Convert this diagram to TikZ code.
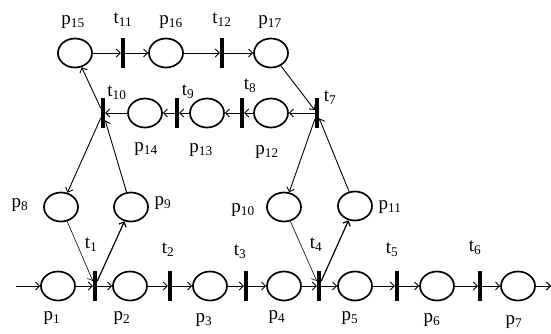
\documentclass[tikz,border=0pt]{standalone}
\usepackage{fontspec}
\setmainfont{Liberation Serif}
\usetikzlibrary{arrows.meta,shapes.geometric}

\begin{document}
\begin{tikzpicture}[x=1pt,y=-1pt,
  place/.style={ellipse,draw,line width=1.7pt,minimum width=34pt,minimum height=29pt,inner sep=0pt},
  trans/.style={rectangle,fill=black,minimum width=4pt,minimum height=30pt,inner sep=0pt},
  lbl/.style={font=\fontsize{19}{21}\selectfont,inner sep=0pt},
  arc/.style={-{Straight Barb[length=4pt,width=8pt]},line width=0.9pt}]

 \useasboundingbox (0,0) rectangle (551,333);

 % top row
 \node[place] (p15) at (75,53) {};
 \node[trans] (t11) at (123,53) {};
 \node[place] (p16) at (166,53) {};
 \node[trans] (t12) at (222,53) {};
 \node[place] (p17) at (271,53) {};

 % middle row (right to left)
 \node[trans] (t7) at (317,113) {};
 \node[place] (p12) at (271,113) {};
 \node[trans] (t8) at (242,113) {};
 \node[place] (p13) at (207,113) {};
 \node[trans] (t9) at (177,113) {};
 \node[place] (p14) at (145,113) {};
 \node[trans] (t10) at (103,113) {};

 % side places
 \node[place] (p8) at (61,207) {};
 \node[place] (p9) at (131,207) {};
 \node[place] (p10) at (284,207) {};
 \node[place] (p11) at (355,206) {};

 % bottom row
 \coordinate (in) at (16,286);
 \node[place] (p1) at (58,286) {};
 \node[trans] (t1) at (95,286) {};
 \node[place] (p2) at (130,286) {};
 \node[trans] (t2) at (170,286) {};
 \node[place] (p3) at (210,286) {};
 \node[trans] (t3) at (246,286) {};
 \node[place] (p4) at (284,286) {};
 \node[trans] (t4) at (319,286) {};
 \node[place] (p5) at (355,286) {};
 \node[trans] (t5) at (397,286) {};
 \node[place] (p6) at (437,286) {};
 \node[trans] (t6) at (480,286) {};
 \node[place] (p7) at (518,286) {};
 \coordinate (out) at (551,286);

 % arcs
 \draw[arc] (p15) -- (t11);
 \draw[arc] (t11) -- (p16);
 \draw[arc] (p16) -- (t12);
 \draw[arc] (t12) -- (p17);
 \draw[arc] (p17) -- (t7);
 \draw[arc] (t7) -- (p12);
 \draw[arc] (p12) -- (t8);
 \draw[arc] (t8) -- (p13);
 \draw[arc] (p13) -- (t9);
 \draw[arc] (t9) -- (p14);
 \draw[arc] (p14) -- (t10);
 \draw[arc] (t10) -- (p15);
 \draw[arc] (t10) -- (p8);
 \draw[arc] (p9) -- (t10);
 \draw[arc] (t7) -- (p10);
 \draw[arc] (p11) -- (t7);
 \draw[arc,line width=0.6pt] (p8) -- (t1);
 \draw[arc,line width=1.2pt] (t1) -- (p9);
 \draw[arc,line width=0.6pt] (p10) -- (t4);
 \draw[arc,line width=1.2pt] (t4) -- (p11);
 \draw[arc] (in) -- (p1);
 \draw[arc] (p1) -- (t1);
 \draw[arc] (t1) -- (p2);
 \draw[arc] (p2) -- (t2);
 \draw[arc] (t2) -- (p3);
 \draw[arc] (p3) -- (t3);
 \draw[arc] (t3) -- (p4);
 \draw[arc] (p4) -- (t4);
 \draw[arc] (t4) -- (p5);
 \draw[arc] (p5) -- (t5);
 \draw[arc] (t5) -- (p6);
 \draw[arc] (p6) -- (t6);
 \draw[arc] (t6) -- (p7);
 \draw[arc] (p7) -- (out);

 % labels
 \node[lbl] (lp15) at (73,22) {p\textsubscript{15}};
 \node[lbl] (lt11) at (123,20) {t\textsubscript{11}};
 \node[lbl] (lp16) at (171,22) {p\textsubscript{16}};
 \node[lbl] (lt12) at (222,20) {t\textsubscript{12}};
 \node[lbl] (lp17) at (270,22) {p\textsubscript{17}};
 \node[lbl] (lt10) at (117,93) {t\textsubscript{10}};
 \node[lbl] (lt9) at (188,92) {t\textsubscript{9}};
 \node[lbl] (lt8) at (250,86) {t\textsubscript{8}};
 \node[lbl] (lt7) at (330,98) {t\textsubscript{7}};
 \node[lbl] (lp14) at (146,149) {p\textsubscript{14}};
 \node[lbl] (lp13) at (201,150) {p\textsubscript{13}};
 \node[lbl] (lp12) at (267,152) {p\textsubscript{12}};
 \node[lbl] (lp8) at (20,205) {p\textsubscript{8}};
 \node[lbl] (lp9) at (163,203) {p\textsubscript{9}};
 \node[lbl] (lp10) at (243,210) {p\textsubscript{10}};
 \node[lbl] (lp11) at (390,207) {p\textsubscript{11}};
 \node[lbl] (lt1) at (91,245) {t\textsubscript{1}};
 \node[lbl] (lt2) at (168,250) {t\textsubscript{2}};
 \node[lbl] (lt3) at (240,252) {t\textsubscript{3}};
 \node[lbl] (lt4) at (316,245) {t\textsubscript{4}};
 \node[lbl] (lt5) at (392,250) {t\textsubscript{5}};
 \node[lbl] (lt6) at (475,248) {t\textsubscript{6}};
 \node[lbl] (lp1) at (52,318) {p\textsubscript{1}};
 \node[lbl] (lp2) at (122,318) {p\textsubscript{2}};
 \node[lbl] (lp3) at (204,320) {p\textsubscript{3}};
 \node[lbl] (lp4) at (277,317) {p\textsubscript{4}};
 \node[lbl] (lp5) at (350,318) {p\textsubscript{5}};
 \node[lbl] (lp6) at (432,320) {p\textsubscript{6}};
 \node[lbl] (lp7) at (514,322) {p\textsubscript{7}};
\end{tikzpicture}
\end{document}
